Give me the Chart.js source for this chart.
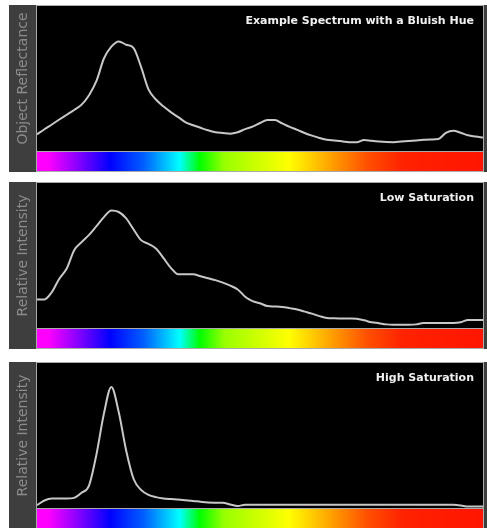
<!DOCTYPE html>
<html>
<head>
<meta charset="utf-8">
<script src="https://cdn.jsdelivr.net/npm/chart.js@4"></script>
<style>
  html, body { margin: 0; padding: 0; background: #ffffff; width: 487px; height: 528px; overflow: hidden; }
  canvas { position: absolute; left: 9px; }
  #c1 { top: 5px; }
  #c2 { top: 182px; }
  #c3 { top: 362px; }
</style>
</head>
<body>
<canvas id="c1" width="478" height="167"></canvas>
<canvas id="c2" width="478" height="167"></canvas>
<canvas id="c3" width="478" height="167"></canvas>
<script>
// Wavelength samples (nm)
const wavelengths = [400,405,410,415,420,425,430,435,440,445,450,455,460,465,470,475,480,485,490,495,
  500,505,510,515,520,525,530,535,540,545,550,555,560,565,570,575,580,585,590,595,
  600,605,610,615,620,625,630,635,640,645,650,655,660,665,670,675,680,685,690,695,700];

// Panel 1: object reflectance (bluish hue)
const bluishHue = [11.5,15.0,18.3,21.7,25.0,28.3,32.0,38.5,48.3,63.8,
  72.0,75.6,73.3,71.0,58.0,42.5,35.5,30.8,26.8,23.4,
  19.8,17.8,16.0,14.3,13.0,12.4,11.9,12.9,15.1,16.8,
  19.3,21.4,21.4,19.0,16.6,14.6,12.4,10.6,9.0,7.7,
  7.2,6.7,6.1,6.0,7.6,7.0,6.5,6.2,6.1,6.5,
  6.9,7.3,7.7,8.0,8.3,12.5,14.0,12.6,10.8,10.0,9.3];

// Panel 2: low saturation
const lowSaturation = [19.7,19.7,24.8,34.0,41.0,53.7,59.2,64.2,70.3,76.5,
  81.0,80.0,75.6,67.9,60.6,58.0,54.8,48.3,41.5,37.0,
  37.0,37.0,35.7,34.3,33.0,31.3,29.2,26.6,21.6,18.5,
  17.1,15.1,14.8,14.5,13.7,12.8,11.3,9.9,8.2,6.9,
  6.7,6.6,6.5,6.3,5.3,4.0,3.3,2.5,2.3,2.3,
  2.3,2.5,3.5,3.5,3.5,3.5,3.5,4.0,5.6,5.6,5.6];

// Panel 3: high saturation
const highSaturation = [2.0,5.2,6.5,6.5,6.5,7.0,10.5,15.5,37.0,65.0,
  83.5,66.0,39.5,20.0,12.5,9.0,7.5,6.6,6.2,5.9,
  5.4,4.9,4.3,3.8,3.7,3.6,2.4,1.4,2.2,2.2,
  2.2,2.2,2.2,2.2,2.2,2.2,2.2,2.2,2.2,2.2,
  2.2,2.2,2.2,2.2,2.2,2.2,2.2,2.2,2.2,2.2,
  2.2,2.2,2.2,2.2,2.2,2.2,2.2,1.8,1.0,1.0,1.0];

const panelTitles = ['Example Spectrum with a Bluish Hue', 'Low Saturation', 'High Saturation'];
const axisTitles = ['Object Reflectance', 'Relative Intensity', 'Relative Intensity'];

// Colour bar stops (style)
const spectrumStops = [
  [0.000, '#ff00ff'], [0.025, '#ff00ff'], [0.090, '#8a00ff'], [0.165, '#0000ff'],
  [0.240, '#0060ff'], [0.320, '#00ffff'], [0.365, '#00ff00'], [0.420, '#99ff00'],
  [0.565, '#ffff00'], [0.650, '#ffaa00'], [0.740, '#ff5000'], [0.820, '#ff2200'],
  [1.000, '#ff1500']
];

const panelPlugin = {
  id: 'panel',
  beforeDraw(chart) {
    const { ctx, chartArea: a, width, height } = chart;
    ctx.save();
    ctx.fillStyle = '#3e3e3e';
    ctx.fillRect(0, 0, width, height);
    ctx.fillStyle = '#000000';
    ctx.fillRect(a.left, a.top, a.right - a.left, a.bottom - a.top);
    const g = ctx.createLinearGradient(a.left, 0, a.right, 0);
    spectrumStops.forEach(([o, c]) => g.addColorStop(o, c));
    ctx.fillStyle = g;
    ctx.fillRect(a.left, a.bottom + 1, a.right - a.left, height - a.bottom - 2);
    ctx.restore();
  },
  afterDraw(chart, args, opts) {
    const { ctx, chartArea: a, height } = chart;
    ctx.save();
    ctx.strokeStyle = '#aaaaaa';
    ctx.lineWidth = 1;
    ctx.strokeRect(Math.round(a.left) - 0.5, Math.round(a.top) - 0.5,
      Math.round(a.right - a.left) + 1, height - Math.round(a.top));
    ctx.beginPath();
    ctx.moveTo(a.left, Math.round(a.bottom) + 0.5);
    ctx.lineTo(a.right, Math.round(a.bottom) + 0.5);
    ctx.stroke();
    ctx.fillStyle = '#f0f0f0';
    ctx.font = 'bold 11px "DejaVu Sans"';
    ctx.textAlign = 'right';
    ctx.textBaseline = 'middle';
    ctx.fillText(opts.text, a.right - 9, a.top + 15);
    ctx.restore();
  }
};

function makeChart(id, values, title, yTitle) {
  return new Chart(document.getElementById(id), {
    type: 'line',
    data: {
      labels: wavelengths,
      datasets: [{
        data: values,
        borderColor: '#c8c8c8',
        borderWidth: 2,
        pointRadius: 0,
        cubicInterpolationMode: 'monotone',
        fill: false
      }]
    },
    options: {
      responsive: false,
      animation: false,
      layout: { padding: { left: 4, right: 4, top: 1, bottom: 21 } },
      plugins: {
        legend: { display: false },
        tooltip: { enabled: false },
        panel: { text: title }
      },
      scales: {
        x: { type: 'category', display: false, offset: false },
        y: {
          min: 0, max: 100,
          grid: { display: false },
          border: { display: false },
          ticks: { display: false },
          afterFit(scale) { scale.width = 24; },
          title: {
            display: true, text: yTitle, color: '#8c8c8c',
            font: { family: '"DejaVu Sans"', size: 14 },
            padding: { top: 2, bottom: 2 }
          }
        }
      }
    },
    plugins: [panelPlugin]
  });
}

makeChart('c1', bluishHue, panelTitles[0], axisTitles[0]);
makeChart('c2', lowSaturation, panelTitles[1], axisTitles[1]);
makeChart('c3', highSaturation, panelTitles[2], axisTitles[2]);
</script>
</body>
</html>
